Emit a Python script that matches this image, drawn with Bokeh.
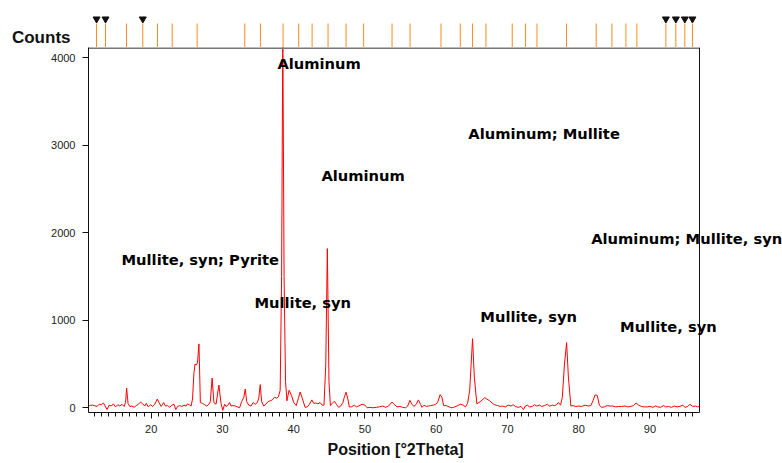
from bokeh.plotting import figure
from bokeh.layouts import column
from bokeh.models import (Range1d, SingleIntervalTicker, FixedTicker, Label, ColumnDataSource, Span, Title)
from bokeh.embed import file_html
from bokeh.resources import INLINE

# ---- diffractogram (position in °2Theta, counts) ----
two_theta = [11.2, 11.5, 11.8, 12.1, 12.4, 12.7, 13.0, 13.3, 13.6, 13.8, 14.1, 14.4, 14.7, 15.0, 15.3,
             15.6, 15.9, 16.2, 16.4, 16.55, 16.75, 17.0, 17.3, 17.6, 17.9, 18.2, 18.5, 18.8, 19.1, 19.3,
             19.6, 19.9, 20.2, 20.5, 20.85, 21.1, 21.4, 21.75, 22.0, 22.3, 22.6, 22.9, 23.2, 23.45, 23.7,
             24.0, 24.3, 24.6, 24.9, 25.1, 25.4, 25.6, 25.8, 26.0, 26.15, 26.35, 26.5, 26.7, 26.9, 27.2,
             27.5, 27.8, 28.1, 28.3, 28.55, 28.8, 29.1, 29.5, 29.8, 30.05, 30.3, 30.5, 30.75, 31.0, 31.2,
             31.5, 31.8, 32.1, 32.4, 32.7, 33.0, 33.2, 33.4, 33.7, 34.0, 34.3, 34.6, 34.9, 35.1, 35.3,
             35.5, 35.8, 36.1, 36.4, 36.7, 37.0, 37.3, 37.6, 37.85, 38.1, 38.3, 38.47, 38.65, 38.85, 39.05,
             39.35, 39.7, 40.0, 40.35, 40.7, 40.9, 41.2, 41.6, 41.9, 42.2, 42.55, 42.8, 43.1, 43.4, 43.7,
             44.0, 44.25, 44.5, 44.72, 44.95, 45.15, 45.4, 45.7, 46.0, 46.3, 46.6, 46.9, 47.1, 47.35, 47.6,
             47.8, 48.1, 48.5, 48.8, 49.1, 49.6, 50.0, 50.3, 50.7, 51.1, 51.6, 52.0, 52.5, 52.9, 53.3,
             53.8, 54.1, 54.5, 54.9, 55.3, 55.7, 56.0, 56.3, 56.6, 56.85, 57.2, 57.5, 57.8, 58.0, 58.3,
             58.6, 58.9, 59.2, 59.6, 59.9, 60.2, 60.55, 60.8, 61.05, 61.4, 61.8, 62.2, 62.6, 62.9, 63.4,
             63.8, 64.1, 64.4, 64.7, 65.1, 65.35, 65.7, 66.0, 66.4, 66.8, 67.1, 67.5, 67.9, 68.2, 68.6,
             69.0, 69.3, 69.7, 70.1, 70.5, 70.8, 71.1, 71.5, 71.9, 72.25, 72.5, 72.8, 73.1, 73.5, 73.8,
             74.1, 74.5, 74.8, 75.2, 75.6, 75.9, 76.3, 76.6, 76.9, 77.15, 77.45, 77.7, 78.0, 78.3, 78.55,
             78.9, 79.2, 79.6, 80.0, 80.4, 80.9, 81.3, 81.7, 82.0, 82.3, 82.6, 82.9, 83.2, 83.6, 84.0,
             84.4, 84.8, 85.2, 85.6, 86.0, 86.5, 86.9, 87.3, 87.7, 88.05, 88.4, 88.8, 89.2, 89.6, 90.0,
             90.4, 90.8, 91.1, 91.5, 91.9, 92.2, 92.6, 93.0, 93.4, 93.8, 94.2, 94.6, 94.9, 95.3, 95.6,
             96.0, 96.4, 96.7, 96.95]
counts = [20, 28, 30, 22, 15, 40, 35, 55, 10, -20, 30, 20, 45, 10, 35,
          20, 40, 15, 60, 225, 50, 15, 20, 5, 25, 40, 65, 45, 20, 50,
          10, 35, 15, 40, 100, 60, 15, 60, 20, 25, 5, 30, 40, -20, 15,
          25, 15, 30, 20, 45, 30, 20, 100, 400, 500, 490, 520, 730, 60, 50,
          35, 20, 40, 70, 340, 60, 40, 260, 50, -30, 40, 15, 30, 60, 20,
          25, 20, 10, 0, 70, 120, 215, 70, 30, 20, 60, 40, 60, 110, 265,
          70, 20, 40, 70, 80, 90, 120, 110, 125, 200, 1500, 4300, 1500, 300, 80,
          200, 140, 60, 25, 120, 180, 110, 5, 10, 40, 90, 50, 55, 45, 60,
          30, 30, 500, 1820, 300, 25, 50, 75, 40, 5, 20, 60, 120, 178, 100,
          10, 10, 30, 10, 20, 40, 30, 0, 5, 0, 5, 10, 20, 5, 20,
          65, 40, 10, 15, 5, 0, 20, 85, 40, 15, 40, 90, 40, 5, 30,
          15, 20, 25, 30, 40, 60, 150, 120, 25, 25, 10, 0, 10, 20, 40,
          30, 10, 50, 200, 790, 350, 45, 60, 85, 115, 100, 80, 50, 35, 25,
          15, 20, 10, 30, 20, 35, 15, 5, 15, -20, 20, 30, 10, 15, 35,
          20, 30, 15, 25, 40, 20, 30, 25, 35, 60, 30, 120, 500, 745, 350,
          20, 25, 15, 20, 15, 30, 20, 25, 80, 148, 140, 30, 5, 10, 25,
          20, 20, 10, 15, 15, 20, 10, 15, 25, 55, 30, 15, 10, 10, 15,
          5, 20, 10, 5, 25, 10, 15, 5, 20, 10, 15, 30, 5, 15, 40,
          15, 20, 10, 15]

# ---- reference line positions (°2Theta) shown in the strip above the plot ----
ref_positions = [12.33, 13.59, 16.54, 18.82, 20.88, 22.95, 26.45, 33.13, 35.33, 38.51,
                 40.70, 42.58, 44.82, 47.35, 49.82, 53.80, 56.33, 60.67, 63.38, 65.10,
                 66.98, 70.67, 72.54, 74.14, 78.29, 82.45, 84.66, 86.62, 88.16, 92.23,
                 93.63, 94.89, 95.96]
flagged_positions = [12.33, 13.59, 18.82, 92.23, 93.63, 94.89, 95.96]

# ---- phase labels ----
phase_texts = ["Aluminum", "Aluminum; Mullite", "Aluminum", "Aluminum; Mullite, syn",
               "Mullite, syn; Pyrite", "Mullite, syn", "Mullite, syn", "Mullite, syn"]
phase_x = [37.71, 64.5, 43.89, 81.75, 15.83, 34.49, 66.19, 85.8]
phase_y = [3935, 3135, 2655, 1935, 1695, 1203, 1043, 929]

x_start, x_end = 11.2, 96.95
y_start, y_end = -54, 4118

# ---- layout geometry (pixels) ----
W = 782
FRAME_L, FRAME_R = 88, 699      # plot box left / right edge
STRIP_H = 47                    # height of the reference-line strip
MAIN_H = 416
px_per_unit = (FRAME_R - FRAME_L) / (x_end - x_start)
ext_end = x_end + (W - FRAME_R) / px_per_unit

AX_COLOR = "#111111"

main = figure(width=W, height=MAIN_H, output_backend="svg", toolbar_location=None,
              x_range=Range1d(x_start, ext_end), y_range=Range1d(y_start, y_end),
              min_border_left=FRAME_L, min_border_right=0, min_border_top=0, min_border_bottom=51,
              background_fill_color="white", border_fill_color="white")
main.xgrid.visible = False
main.ygrid.visible = False
main.outline_line_color = None

main.line(two_theta, counts, line_color="#ff0000", line_width=1)

# box edges: top (grey) and right (black)
main.segment(x0=[x_start], y0=[y_end], x1=[x_end], y1=[y_end], line_color="#777777", line_width=3)
main.add_layout(Span(location=x_end, dimension="height", line_color=AX_COLOR, line_width=1))

xa = main.xaxis[0]
xa.bounds = (x_start, x_end)
xa.ticker = SingleIntervalTicker(interval=10, num_minor_ticks=10)
xa.axis_line_color = AX_COLOR
xa.major_tick_line_color = AX_COLOR
xa.minor_tick_line_color = AX_COLOR
xa.major_tick_in = 0
xa.major_tick_out = 6
xa.minor_tick_in = 0
xa.minor_tick_out = 4
xa.major_label_text_font = "Liberation Sans"
xa.major_label_text_font_size = "11px"
xa.major_label_text_color = "#222222"
xa.major_label_standoff = 6

ya = main.yaxis[0]
ya.ticker = SingleIntervalTicker(interval=1000, num_minor_ticks=0)
ya.axis_line_color = AX_COLOR
ya.major_tick_line_color = AX_COLOR
ya.major_tick_in = 0
ya.major_tick_out = 6
ya.minor_tick_out = 0
ya.major_label_text_font = "Liberation Sans"
ya.major_label_text_font_size = "11px"
ya.major_label_text_color = "#222222"
ya.major_label_standoff = 7

xtitle = Title(text="Position [°2Theta]", align="left", offset=239, standoff=6,
               text_font="Liberation Sans", text_font_style="bold", text_font_size="16px",
               text_color=AX_COLOR)
main.add_layout(xtitle, "below")

for t, x, y in zip(phase_texts, phase_x, phase_y):
    main.add_layout(Label(x=x, y=y, text=t, text_font="DejaVu Sans", text_font_style="bold",
                          text_font_size="14.7px", text_color="#000000",
                          text_align="left", text_baseline="middle"))

# ---- strip with reference lines (y in pixels from the box top) ----
top = figure(width=W, height=STRIP_H, output_backend="svg", toolbar_location=None,
             x_range=main.x_range, y_range=Range1d(0, STRIP_H),
             x_axis_location=None, y_axis_location="left",
             min_border_left=FRAME_L, min_border_right=0, min_border_top=0, min_border_bottom=0,
             background_fill_color="white", border_fill_color="white")
top.grid.visible = False
top.outline_line_color = None

ref_src = ColumnDataSource(dict(x=ref_positions, y0=[0] * len(ref_positions),
                                y1=[24] * len(ref_positions)))
top.segment(x0="x", y0="y0", x1="x", y1="y1", source=ref_src, line_color="#ff8a1c", line_width=1)
flag_src = ColumnDataSource(dict(x=flagged_positions, y=[28.5] * len(flagged_positions)))
top.scatter(x="x", y="y", source=flag_src, marker="inverted_triangle", size=7,
            fill_color=AX_COLOR, line_color=AX_COLOR)

# y-axis title "Counts" drawn as the strip's single axis label
counts_title_y = 9
tya = top.yaxis[0]
tya.ticker = FixedTicker(ticks=[counts_title_y])
tya.major_label_overrides = {counts_title_y: "Counts"}
tya.axis_line_color = None
tya.major_tick_line_color = None
tya.minor_tick_line_color = None
tya.major_tick_out = 0
tya.major_tick_in = 0
tya.major_label_standoff = 18
tya.major_label_text_font = "Liberation Sans"
tya.major_label_text_font_style = "bold"
tya.major_label_text_font_size = "17px"
tya.major_label_text_color = AX_COLOR

layout = column(top, main)
open("out.html", "w").write(file_html(layout, INLINE))
